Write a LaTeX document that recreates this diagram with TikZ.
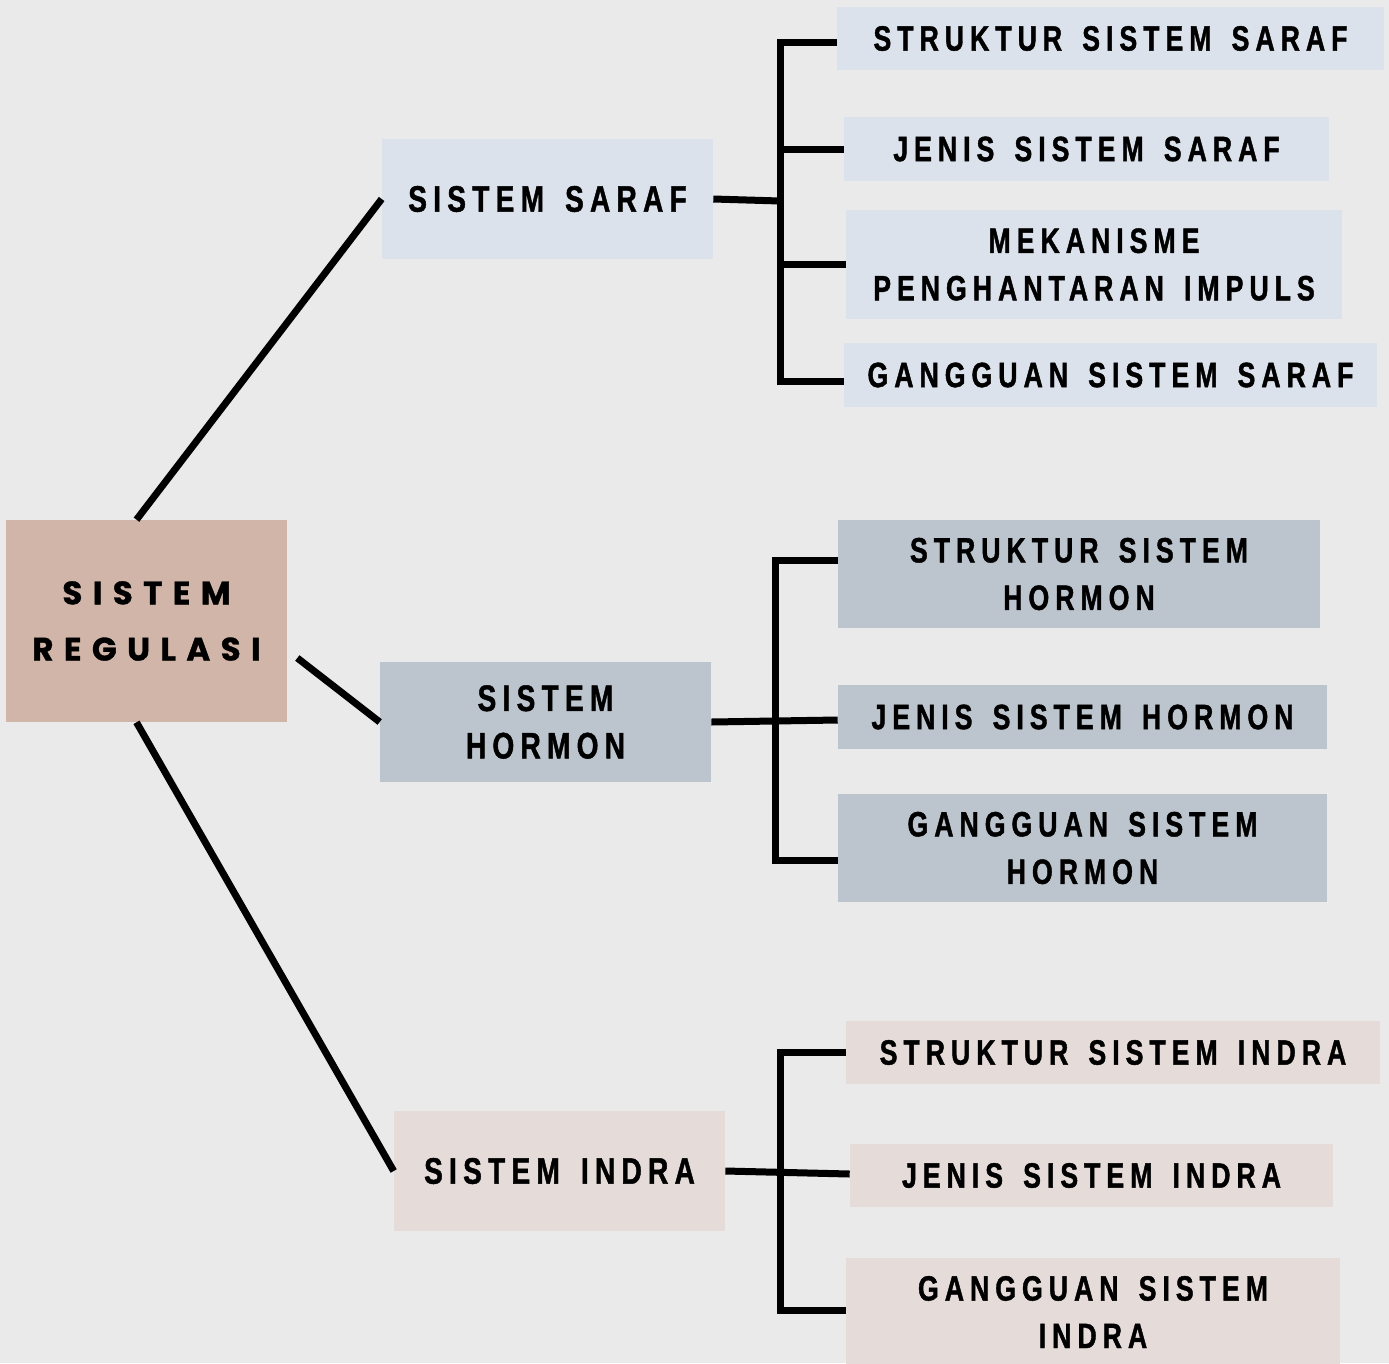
\documentclass[tikz,border=0pt]{standalone}
\usepackage{fontspec}
\newfontfamily\labelfont[FakeStretch=0.76,LetterSpace=17,WordSpace=1.5,FakeBold=1.2]{Liberation Sans Bold}
\newfontfamily\rootfont[LetterSpace=32,FakeBold=1]{Poppins Bold}
\definecolor{paper}{HTML}{EAEAEA}
\definecolor{rootcol}{HTML}{D0B5A8}
\definecolor{sarafcol}{HTML}{DCE2EC}
\definecolor{hormoncol}{HTML}{BCC5CE}
\definecolor{indracol}{HTML}{E5DCDA}
\tikzset{
    box/.style={inner sep=0pt, align=center, font=\labelfont\fontsize{20}{27}\selectfont},
    headbox/.style={box, font=\labelfont\fontsize{21}{27}\selectfont, minimum width=6.62cm, minimum height=2.4cm},
    rootbox/.style={box, fill=rootcol, font=\rootfont\fontsize{18.5}{32}\selectfont},
    link/.style={line width=0.14cm, line join=miter}
}
\begin{document}
\begin{tikzpicture}[x=0.02cm, y=-0.02cm]
            \fill[paper] (0,0) rectangle (1389,1363);
            \useasboundingbox (0,0) rectangle (1389,1363);
            % main node and the three systems
            \node[rootbox, minimum width=5.62cm, minimum height=4.04cm] (root) at (146.5,621) {SISTEM\\REGULASI};
            \node[headbox, fill=sarafcol]   (saraf)  at (547.5,199)  {SISTEM SARAF};
            \node[headbox, fill=hormoncol]  (hormon) at (545.5,722)  {SISTEM\\HORMON};
            \node[headbox, fill=indracol]   (indra)  at (559.5,1171) {SISTEM INDRA};
            % saraf
            \node[box, fill=sarafcol, minimum width=10.94cm, minimum height=1.26cm] (s1) at (1110.5,38.5) {STRUKTUR SISTEM SARAF};
            \node[box, fill=sarafcol, minimum width=9.7cm, minimum height=1.28cm]   (s2) at (1086.5,149)  {JENIS SISTEM SARAF};
            \node[box, fill=sarafcol, minimum width=9.92cm, minimum height=2.18cm]  (s3) at (1094,264.5)  {MEKANISME\\PENGHANTARAN IMPULS};
            \node[box, fill=sarafcol, minimum width=10.66cm, minimum height=1.28cm] (s4) at (1110.5,375)  {GANGGUAN SISTEM SARAF};
            % hormon
            \node[box, fill=hormoncol, minimum width=9.64cm, minimum height=2.16cm] (h1) at (1079,574)   {STRUKTUR SISTEM\\HORMON};
            \node[box, fill=hormoncol, minimum width=9.78cm, minimum height=1.28cm] (h2) at (1082.5,717) {JENIS SISTEM HORMON};
            \node[box, fill=hormoncol, minimum width=9.78cm, minimum height=2.16cm] (h3) at (1082.5,848) {GANGGUAN SISTEM\\HORMON};
            % indra
            \node[box, fill=indracol, minimum width=10.68cm, minimum height=1.26cm] (i1) at (1113,1052.5)  {STRUKTUR SISTEM INDRA};
            \node[box, fill=indracol, minimum width=9.66cm, minimum height=1.26cm]  (i2) at (1091.5,1175.5) {JENIS SISTEM INDRA};
            \node[box, fill=indracol, minimum width=9.88cm, minimum height=2.16cm]  (i3) at (1093,1312)     {GANGGUAN SISTEM\\INDRA};
            % spines of the brackets
            \coordinate (sj) at (780,201);
            \coordinate (hj) at (775,720);
            \coordinate (ij) at (780,1174);
            % from the main node
            \draw[link] ([xshift=-0.2cm]root.north) -- (saraf.west);
            \draw[link] ([xshift=0.2cm,yshift=-0.74cm]root.east) -- (hormon.west);
            \draw[link] ([xshift=-0.2cm]root.south) -- (indra.west);
            % saraf bracket
            \draw[link] (saraf.east) -- (sj);
            \draw[link] ([yshift=-0.07cm]s1.west) -- ([yshift=-0.07cm]s1.west -| sj) -- ([yshift=-0.12cm]s4.west -| sj) -- ([yshift=-0.12cm]s4.west);
            \draw[link] (sj |- s2.west) -- (s2.west);
            \draw[link] (sj |- s3.west) -- (s3.west);
            % hormon bracket
            \draw[link] (hormon.east) -- (h2.west |- hj);
            \draw[link] ([yshift=0.28cm]h1.west) -- ([yshift=0.28cm]h1.west -| hj) -- ([yshift=-0.24cm]h3.west -| hj) -- ([yshift=-0.24cm]h3.west);
            % indra bracket
            \draw[link] (indra.east) -- (i2.west |- ij);
            \draw[link] (i1.west) -- (i1.west -| ij) -- ([yshift=0.04cm]i3.west -| ij) -- ([yshift=0.04cm]i3.west);
\end{tikzpicture}
\end{document}
